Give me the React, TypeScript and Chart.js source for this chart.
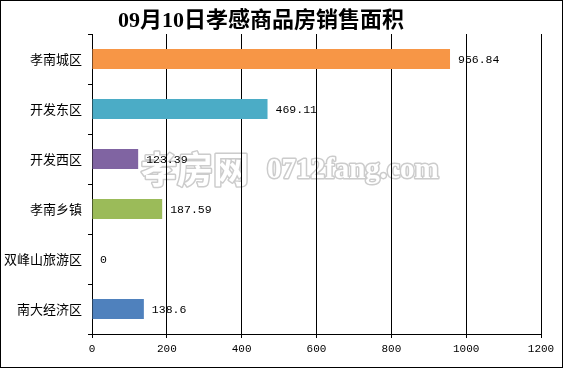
import React, { useEffect, useRef } from "react";
import { Chart, registerables } from "chart.js";

Chart.register(...registerables);

const TITLE = "09月10日孝感商品房销售面积";
const categories = ["孝南城区", "开发东区", "开发西区", "孝南乡镇", "双峰山旅游区", "南大经济区"];
const values = [956.84, 469.11, 123.39, 187.59, 0, 138.6];
const valueLabels = ["956.84", "469.11", "123.39", "187.59", "0", "138.6"];
const barColors = ["#F79646", "#4BACC6", "#8064A2", "#9BBB59", "#4F81BD", "#4F81BD"];
const xMin = 0;
const xMax = 1200;
const xStep = 200;

const framePlugin = {
  id: "frame",
  beforeDraw(chart: any) {
    const ctx = chart.ctx;
    ctx.save();
    ctx.fillStyle = "#ffffff";
    ctx.fillRect(0, 0, chart.width, chart.height);
    // watermark (outlined), drawn under grid and bars
    ctx.lineJoin = "round";
    ctx.textBaseline = "middle";
    ctx.textAlign = "left";
    const drawOutline = (text: string, font: string, x: number, y: number) => {
      ctx.font = font;
      ctx.strokeStyle = "#cccccc";
      ctx.lineWidth = 3;
      ctx.strokeText(text, x, y);
      ctx.fillStyle = "#ffffff";
      ctx.fillText(text, x, y);
    };
    drawOutline("孝房网", "bold 36px 'Noto Sans CJK SC'", 141, 169);
    drawOutline("0712fang.com", "bold 29px 'Liberation Serif'", 267, 171);
    ctx.restore();
  },
  afterDatasetsDraw(chart: any) {
    const ctx = chart.ctx;
    ctx.save();
    ctx.textBaseline = "middle";
    ctx.textAlign = "left";
    // data labels
    const meta = chart.getDatasetMeta(0);
    ctx.fillStyle = "#000";
    ctx.font = "11.5px 'Liberation Mono'";
    meta.data.forEach((bar: any, i: number) => {
      ctx.fillText(valueLabels[i], bar.x + 8, bar.y + 1);
    });
    // title
    ctx.textAlign = "center";
    ctx.font = "bold 22px 'Liberation Serif', 'Noto Sans CJK SC'";
    ctx.fillText(TITLE, 261, 21);
    // outer border
    ctx.strokeStyle = "#000";
    ctx.lineWidth = 1;
    ctx.strokeRect(0.5, 0.5, chart.width - 1, chart.height - 1);
    ctx.restore();
  },
};

export default function App() {
  const ref = useRef<HTMLCanvasElement>(null);
  useEffect(() => {
    if (!ref.current) return;
    const chart = new Chart(ref.current, {
      type: "bar",
      data: {
        labels: categories,
        datasets: [
          {
            data: values,
            backgroundColor: barColors,
            barPercentage: 0.4,
            categoryPercentage: 1,
          },
        ],
      },
      options: {
        indexAxis: "y",
        animation: false,
        responsive: false,
        maintainAspectRatio: false,
        layout: { padding: { left: 0, right: 22, top: 34, bottom: 0 } },
        plugins: { legend: { display: false }, title: { display: false }, tooltip: { enabled: false } },
        scales: {
          x: {
            min: xMin,
            max: xMax,
            ticks: {
              stepSize: xStep,
              color: "#000",
              font: { family: "'Liberation Mono'", size: 11 },
              padding: 4,
              maxRotation: 0,
              callback: (v: any) => String(v),
            },
            grid: { color: "#000", lineWidth: 1, tickLength: 4, drawOnChartArea: true },
            border: { color: "#000", width: 1 },
            afterFit(scale: any) {
              scale.height = 34;
            },
          },
          y: {
            ticks: { color: "#000", font: { family: "'Noto Sans CJK SC'", size: 13 }, padding: 6 },
            grid: { offset: true, drawOnChartArea: false, color: "#000", tickLength: 4 },
            border: { color: "#000", width: 1 },
            afterFit(scale: any) {
              scale.width = 92;
            },
          },
        },
      },
      plugins: [framePlugin],
    });
    return () => chart.destroy();
  }, []);
  return (
    <div style={{ position: "fixed", left: 0, top: 0, width: 563, height: 368 }}>
      <canvas ref={ref} width={563} height={368} style={{ width: 563, height: 368, display: "block" }} />
    </div>
  );
}
